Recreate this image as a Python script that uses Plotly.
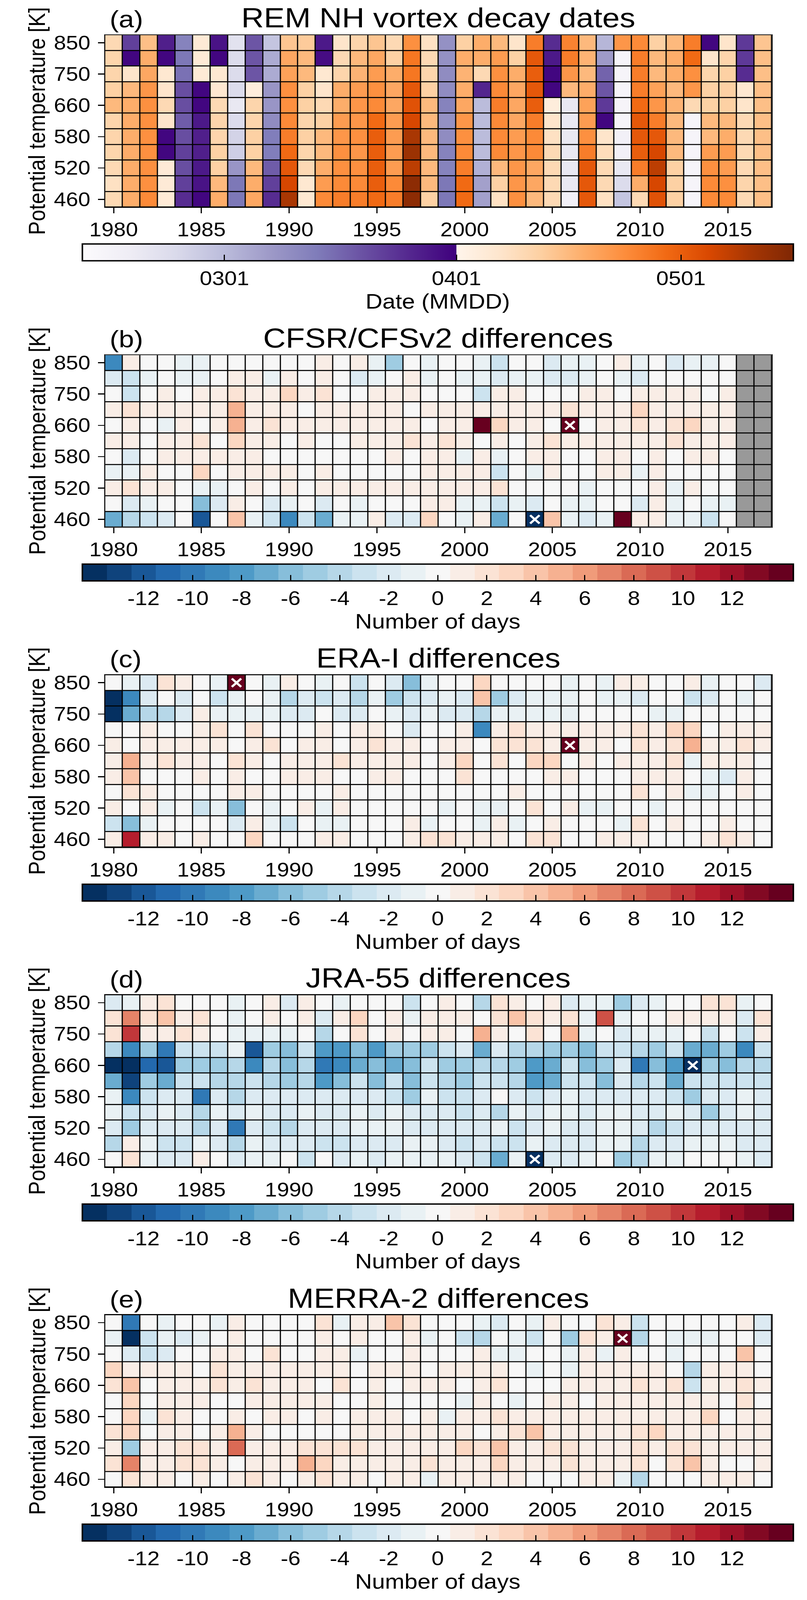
import plotly.graph_objects as go
import plotly.express as px
from plotly.colors import make_colorscale, sample_colorscale

W, H = 2067, 4663

years = list(range(1980, 2018))
year_ticks = [1980, 1985, 1990, 1995, 2000, 2005, 2010, 2015]
levels = ["850", "800", "750", "700", "660", "620", "580", "550", "520", "490", "460"]
level_ticks = ["460", "520", "580", "660", "750", "850"]

# (a) decay date, days relative to 1 April (rows top to bottom, 1980-2017)
rem_dates = [
    [9, -10, 14, -5, -20, 4, -3, -40, -13, -33, 13, 12, -4, 6, 10, 13, 9, 22, 7, -23, 11, 17, 15, 6, 25, -7, 24, 15, -30, 21, 23, 11, 15, 25, -1, 6, -9, 13],
    [10, -1, 17, -1, -18, 4, -1, -38, -13, -28, 18, 15, -2, 9, 15, 18, 11, 26, 9, -23, 17, 17, 20, 11, 31, -4, 25, 16, -25, -47, 25, 15, 17, 28, 6, 10, -9, 14],
    [10, 6, 18, 5, -17, 4, 5, -38, -13, -28, 19, 15, 5, 10, 16, 20, 17, 26, 10, -22, 16, 9, 22, 17, 30, -1, 21, 15, -15, -47, 25, 15, 17, 22, 10, 11, -7, 14],
    [11, 15, 21, 6, -12, -1, 5, -38, 3, -24, 22, 11, 6, 17, 20, 22, 18, 31, 11, -22, 17, -6, 23, 18, 31, -1, 15, 17, -13, -47, 25, 19, 15, 21, 11, 11, 5, 14],
    [15, 17, 22, 9, -12, -1, 9, -42, 10, -24, 22, 11, 9, 17, 21, 23, 18, 32, 15, -20, 18, -31, 25, 18, 30, 3, -42, 19, -9, -47, 28, 21, 16, 9, 11, 11, 6, 14],
    [10, 17, 22, 6, -14, -4, 10, -38, 10, -22, 23, 10, 11, 20, 21, 28, 20, 34, 15, -23, 21, -31, 23, 18, 25, 6, -42, 20, -1, -47, 31, 25, 15, -47, 15, 15, 9, 14],
    [10, 17, 22, -1, -12, -5, 10, -36, 11, -19, 25, 11, 15, 21, 22, 30, 20, 39, 15, -22, 22, -31, 23, 20, 23, 7, -42, 22, 6, -45, 31, 31, 15, -47, 15, 17, 9, 14],
    [10, 17, 22, -1, -10, -5, 11, -35, 11, -19, 28, 10, 15, 22, 21, 30, 20, 41, 15, -20, 23, -31, 23, 21, 23, 9, -42, 25, 8, -45, 30, 34, 15, -47, 20, 20, 9, 14],
    [9, 17, 22, 4, -12, -4, 11, -24, 15, -14, 31, 9, 17, 22, 22, 30, 20, 37, 15, -20, 25, -29, 15, 21, 18, 9, -42, 31, 9, -42, 25, 37, 11, -47, 22, 20, 9, 14],
    [7, 17, 22, 4, -10, -3, 15, -18, 17, -10, 34, 5, 20, 23, 23, 30, 23, 43, 15, -18, 28, -26, 11, 21, 18, 9, -42, 31, 9, -38, 17, 34, 11, -47, 23, 22, 10, 14],
    [9, 17, 23, 4, -7, -1, 17, -18, 18, -7, 39, 5, 23, 25, 25, 28, 25, 43, 11, -18, 28, -26, 7, 22, 15, 9, -45, 31, 7, -33, 9, 32, 11, -47, 23, 23, 9, 14],
]
date_ticks = [-31, 0, 30]
date_labels = ["0301", "0401", "0501"]

N = None
# (b)-(e) differences in days; |value| > 14 is off the scale
cfsr_diff = [
    [-9, 1, 0, 0, -1, -1, 0, 0, 0, 0, 0, 0, 1, 0, 1, -1, -5, 0, -1, 0, 0, -1, -3, 0, 0, -2, -1, -1, 0, 1, -1, 0, -2, -1, -1, 0, N, N],
    [-2, -3, -1, 0, -1, -1, 0, 1, 1, -1, 1, 0, 1, 0, -2, -1, 0, 1, -1, 0, -1, -1, -2, -1, -1, -2, -2, -1, 0, -1, -2, 0, 0, 0, 0, 0, N, N],
    [0, -3, 0, 1, 0, 1, 1, 2, 1, 1, 3, 1, 2, 0, 0, 1, 1, 1, 0, 0, 0, -3, 1, 1, 0, 0, 0, 1, 1, 0, 1, 1, 1, 1, 0, 1, N, N],
    [1, 2, 1, 1, 1, 1, 1, 5, 1, 1, 1, 0, 1, 1, 1, 1, 1, 0, 1, 1, 1, 1, 1, 1, 1, 1, 2, 1, 1, 1, 3, 1, 1, 1, 1, 1, N, N],
    [0, 1, 0, -1, 1, 0, 1, 5, 1, 2, 1, 1, 1, 1, 1, 1, 1, 1, 0, 1, 1, 14, 3, 1, 1, 0, 15, 0, 1, 1, 2, 1, 2, 3, 1, 1, N, N],
    [1, 1, 0, 1, 1, 2, 0, 3, 1, 1, 0, 1, 0, 0, 1, 1, 1, 2, 1, 2, 1, 0, 1, 0, 1, 2, 1, 1, 1, 1, 1, 1, 2, 1, 1, 1, N, N],
    [0, -2, 0, 1, 1, 1, 1, 1, 1, 0, 0, 0, 0, 0, 0, 0, 1, 0, 1, 1, -1, 1, -1, 0, 1, 1, 0, 0, 1, 1, 0, 1, 0, 1, 1, 0, N, N],
    [-1, -1, 1, 0, 0, 3, 0, 1, 1, 1, 1, 0, 1, 0, 0, 0, 0, 0, 1, 1, 1, 1, -3, 0, -1, 1, 0, 0, 1, 1, -1, 1, 0, 0, 0, 0, N, N],
    [1, 2, 1, 1, 0, -1, -1, 0, 1, 0, 1, 0, 1, 1, 1, 1, 1, 1, 1, 1, 1, 1, 2, 0, 0, 0, 0, -1, 0, 0, 0, 1, -1, 1, 0, 0, N, N],
    [0, -2, -1, 0, 0, -6, -2, 1, 0, -2, -1, 0, -2, 0, -1, 0, 0, 0, 1, 1, -1, -1, -3, -1, -2, 0, -1, -1, 0, 0, -2, 1, -1, 0, -1, -1, N, N],
    [-7, -4, -3, -2, 0, -12, 0, 4, -1, -3, -9, -3, -7, -1, -1, 1, -2, -2, 3, 0, -1, 1, -7, 0, -15, 4, -1, -2, -1, 14, 1, 1, -1, -1, -3, 0, N, N],
]
erai_diff = [
    [0, -1, -2, 2, 1, 0, -1, 15, 0, -1, 1, 0, -1, 0, -3, 0, -2, -6, -1, 0, 0, 3, 0, 0, 0, 0, -1, 0, -1, 1, 1, 0, 0, 1, -1, 0, 0, -2],
    [-14, -9, -2, 0, -2, 0, -3, -1, 0, -1, -4, -2, -3, -2, -4, -1, -5, -3, -2, -1, -2, 4, -5, -2, -1, -1, -1, 0, -1, -1, -2, 0, 0, -3, -2, 0, -1, 0],
    [-14, -7, -4, -4, -2, 1, -1, -1, -1, -1, -2, -2, 0, -2, -2, 0, -1, -2, -1, -2, -2, -4, -1, -1, -1, -1, -1, 0, 0, 0, 0, -1, -1, 0, 0, 0, 0, 0],
    [0, 0, 1, 0, 0, 1, 2, 0, 2, 0, 0, 0, 1, 0, 1, 1, 0, -2, 0, 0, 1, -9, 1, 2, 1, 1, 1, 1, 1, 1, 2, 1, 3, 3, 0, 1, 1, 1],
    [1, 0, 1, 1, 1, 1, 1, 0, 1, 2, 0, 1, 1, 0, 1, 2, 1, 1, 0, 1, 1, 0, 2, 2, 2, 1, 15, 1, 1, 0, 2, 1, 2, 5, 1, 1, 2, 1],
    [1, 5, 1, 2, 1, 1, 0, 2, 1, 0, 1, 1, 1, 2, 1, 1, 1, 1, 0, 1, 3, 0, 2, 0, 3, 3, 0, 1, 0, 1, 1, 1, 2, -1, 1, 1, 1, 0],
    [1, 4, 0, 0, 0, 1, 0, 1, 0, 0, 1, 1, 1, 0, 0, 1, 1, 0, 0, 0, 2, 0, 0, 0, 0, 1, 1, 0, 0, 0, 1, 1, 1, 0, -1, -2, 1, 0],
    [0, 2, 1, 0, 0, 0, 0, 1, 1, 0, 0, 0, 0, 1, 0, 0, 0, 0, 0, 0, 0, 0, 0, 1, 0, 0, 0, 0, 0, 0, 2, 0, 1, -1, -1, 0, 1, 0],
    [1, 0, 1, -1, 0, -3, -1, -6, 0, -1, 0, 1, -1, 1, 0, 0, 0, 0, 0, -1, 0, -1, -1, 0, 2, 0, 1, -1, -1, 0, 0, -1, 0, 0, 0, 0, 0, 0],
    [-3, -6, -1, 0, 0, 0, 0, -2, 1, -1, -3, 0, -1, -1, 0, 0, 0, 1, -1, 0, 0, -1, 1, -1, 0, 1, 0, 0, 0, -1, 2, 0, 1, 0, 0, 1, 0, 0],
    [1, 11, 1, 1, 0, 1, 0, 0, 3, 0, 0, 0, 1, 1, 0, 0, 0, 1, 2, 2, 1, 1, 1, 0, 2, 2, 0, 0, 1, 1, 1, 0, 0, 0, 1, 2, 1, 0],
]
jra_diff = [
    [-2, -1, 1, 2, 0, 0, 0, -1, 0, 1, -2, 1, 0, -1, 0, 0, 0, -3, 0, 1, 0, -4, 2, 1, 0, 1, -2, -1, -1, -5, -2, -1, 0, 0, 2, 2, -1, 0],
    [2, 7, 2, 4, 1, 2, 0, -1, 0, 1, 0, 1, -2, 1, 3, 0, 1, -1, 1, 1, 1, 0, 2, 4, 2, 1, 2, -1, 9, -1, 0, 0, 1, 1, 1, 1, -2, 2],
    [2, 10, 1, 1, 2, 1, 0, -1, -1, -1, -1, 0, -4, 0, 2, 0, 1, 0, 1, 1, 0, 5, 1, 0, 2, 0, 5, -1, 0, -2, -1, -1, -1, 0, -3, 0, -3, 1],
    [-4, -9, -5, -10, -3, -3, -3, -1, -12, -5, -6, -3, -8, -8, -6, -8, -5, -5, -5, -3, -2, -7, -2, -4, -4, -5, -5, -6, -3, -3, -4, -5, -3, -7, -7, -5, -9, -3],
    [-14, -14, -11, -12, -5, -5, -5, -4, -9, -4, -6, -4, -10, -9, -7, -6, -7, -6, -3, -5, -5, -4, -4, -5, -8, -7, -3, -6, -5, -2, -10, -6, -8, -15, -5, -6, -4, -4],
    [-7, -13, -5, -7, -3, -3, -4, -4, -3, -4, -5, -4, -8, -6, -3, -6, -3, -6, -3, -4, -5, -3, -3, -4, -8, -7, -3, -3, -6, -2, -4, -3, -7, -3, -3, -3, -3, -3],
    [-1, -9, -3, -2, -2, -10, -2, -4, -2, -2, -2, -2, -2, -2, -2, -2, -3, -5, -1, -3, -3, -2, 0, -2, -3, -2, -1, -2, -2, -2, -2, -2, -3, -5, -2, -2, -1, -2],
    [-1, -3, -2, -1, -2, -4, -1, -2, -1, -2, -2, -1, -2, -2, -1, -2, -1, -2, -2, -2, -3, -2, -4, -1, -2, -1, -1, -2, -1, -1, -2, -2, -1, -2, -5, -2, -1, -2],
    [-2, -5, -2, -2, -2, -4, -2, -10, -2, -3, -4, -2, -2, -2, -1, -1, -1, -2, -2, -2, -2, -2, -1, -3, -2, -1, -2, -2, -1, -1, -2, -4, -3, -2, -2, -2, -2, -2],
    [-4, 1, -1, -3, -3, -1, -2, -4, -1, -2, -2, -2, -3, -3, -2, -2, -2, -1, -1, -2, -3, -2, -3, -3, -1, -2, -2, -2, -1, -1, -4, -2, -2, -1, -1, -1, -2, -2],
    [0, 2, -1, -2, -2, 1, 0, -2, -1, -1, 0, -3, 0, -2, -1, -2, -1, -1, -1, -1, -2, -3, -7, -1, -15, -2, -2, -1, 0, -5, -4, -1, -1, 0, 0, 0, -1, -2],
]
merra_diff = [
    [0, -10, 0, -1, 0, 0, -1, 1, 0, 0, 0, 0, 2, -1, 1, 1, 4, 2, 0, 0, 0, -1, -2, 0, -1, 1, 0, 0, 2, 1, -3, 0, 0, 0, 0, 0, 1, -2],
    [-1, -14, -3, -1, -2, -1, 0, 1, 0, 0, 0, 0, 1, 0, 1, 0, 0, 1, -1, 0, -3, -4, 0, -1, -3, 0, -5, 2, 1, 15, -4, 0, -1, -1, -1, 0, 0, -2],
    [0, -2, -3, -2, 0, 0, 1, 1, 0, 2, 0, 0, 1, 1, -1, 0, 0, 1, 0, 0, 0, 1, -1, -1, 0, 0, -1, 1, -1, 1, 0, 0, -1, 0, 0, 0, 4, 0],
    [3, 1, 1, 1, 1, 0, 2, 1, 1, 1, 1, 1, 1, 1, 0, 1, 1, 1, 0, 1, 1, 1, 1, 0, -1, 0, -1, 1, 1, 1, 1, 1, 0, -4, 1, 1, 1, 0],
    [2, 4, 0, 1, 1, 1, 2, 1, 2, 1, 1, 1, 0, 2, 0, 1, 0, 1, 1, 1, 0, 1, 2, 0, 0, 0, 1, 1, 1, 1, 2, 1, 2, -3, 1, 1, 2, 1],
    [0, 3, 0, 1, 1, 1, 0, 0, 1, 1, 1, 1, 1, 0, 0, 1, 0, 0, 0, 0, -1, 1, 0, -1, 0, 1, 1, 0, 1, 1, 1, 1, 1, 1, 1, 0, 2, 0],
    [0, 3, -1, 2, 1, 0, 0, 1, 0, 1, 1, 0, 1, 0, 1, 1, 1, 0, 1, -1, 1, 1, 2, 1, 1, 1, 1, 1, 1, 1, 1, 1, 1, 1, 3, 0, 1, 1],
    [2, 3, 0, 1, 1, 0, 1, 5, 1, 0, 0, 0, 0, 0, 1, 1, 1, 1, 1, 1, 1, 0, 1, 2, 4, 1, 1, 1, 1, 1, 2, 3, 1, 1, 1, 1, 1, 1],
    [1, -5, 1, 1, 2, 2, 1, 8, 1, 1, 1, 2, 2, 2, 2, 1, 1, 1, 1, 1, 3, 2, 4, 1, 1, 2, 2, 1, 1, 1, 2, 1, 2, 2, 1, 1, 1, 1],
    [2, 7, 1, 1, 2, 2, 1, 0, 1, 1, 1, 5, 3, 1, 1, 1, 1, 1, 2, 1, 1, 1, 3, 1, 1, 1, 2, 1, 1, 1, 2, 0, 2, 4, 1, 0, 0, 1],
    [0, 2, 1, 1, 0, 1, 0, 1, 2, 1, 0, 1, 2, 1, 1, 0, 1, 1, -1, 1, 1, 1, 1, 1, 0, 0, 0, 1, 1, -1, -4, 0, 0, 0, 1, 1, 1, 0],
]
diff_ticks = list(range(-12, 13, 2))

panels = [
    ("(a)", "REM NH vortex decay dates", rem_dates),
    ("(b)", "CFSR/CFSv2 differences", cfsr_diff),
    ("(c)", "ERA-I differences", erai_diff),
    ("(d)", "JRA-55 differences", jra_diff),
    ("(e)", "MERRA-2 differences", merra_diff),
]

# pixel layout of the page: grid top/bottom, colour bar top
grid_px = [(94, 598), (1030, 1534), (1966, 2470), (2902, 3406), (3838, 4342)]
cbar_top = [706, 1642, 2578, 3514, 4450]
gx0, gx1 = 234, 1975
cb_x0, cb_x1 = 175, 2031
FONT = "Liberation Sans, Arial, sans-serif"

# colour scales
zmin_a, zmax_a = -50, 45
brk = (0 - zmin_a) / (zmax_a - zmin_a)
purples = px.colors.sequential.Purples
oranges = px.colors.sequential.Oranges
date_scale = ([[brk * i / 8, c] for i, c in enumerate(purples)]
              + [[brk + (1 - brk) * i / 8, c] for i, c in enumerate(oranges)])

rdbu = make_colorscale(px.colors.diverging.RdBu_r)
steps = sample_colorscale(rdbu, [i / 28 for i in range(29)])
diff_scale = []
for i, c in enumerate(steps):
    diff_scale += [[i / 29, c], [(i + 1) / 29, c]]

fig = go.Figure()
annotations = []
layout = {}

for k, (lab, title, data) in enumerate(panels):
    sfx = "" if k == 0 else str(k + 1)
    top, bot = grid_px[k]
    cb = dict(orientation="h", x=0.5 * (cb_x0 + cb_x1) / W, xanchor="center",
              y=1 - cbar_top[k] / H, yanchor="top", len=(cb_x1 - cb_x0) / W,
              thickness=49, outlinewidth=4, outlinecolor="black",
              xpad=0, ypad=0, ticks="inside", ticklen=19, tickwidth=3,
              tickcolor="black", tickfont=dict(size=57, color="black", family=FONT))
    if k == 0:
        cb.update(tickvals=date_ticks, ticktext=date_labels,
                  title=dict(text="Date (MMDD)", side="bottom",
                             font=dict(size=60, color="black", family=FONT)))
        scale, zmin, zmax = date_scale, zmin_a, zmax_a
    else:
        cb.update(tickvals=diff_ticks, ticktext=[str(t) for t in diff_ticks],
                  title=dict(text="Number of days", side="bottom",
                             font=dict(size=60, color="black", family=FONT)))
        scale, zmin, zmax = diff_scale, -14.5, 14.5

    fig.add_trace(go.Heatmap(x=years, y=levels, z=data, colorscale=scale,
                             zmin=zmin, zmax=zmax, xgap=3, ygap=3,
                             colorbar=cb, xaxis="x" + sfx, yaxis="y" + sfx))

    if k > 0:
        missing = [[1 if v is None else None for v in row] for row in data]
        if any(v == 1 for row in missing for v in row):
            fig.add_trace(go.Heatmap(x=years, y=levels, z=missing,
                                     colorscale=[[0, "#999999"], [1, "#999999"]],
                                     showscale=False, xgap=3, ygap=3,
                                     xaxis="x" + sfx, yaxis="y" + sfx))
        xs, ys = [], []
        for r, row in enumerate(data):
            for c, v in enumerate(row):
                if v is not None and abs(v) > 14:
                    xs.append(years[c])
                    ys.append(levels[r])
        fig.add_trace(go.Scatter(x=xs, y=ys, mode="markers", showlegend=False,
                                 marker=dict(symbol="x-thin", size=24,
                                             line=dict(width=6, color="white")),
                                 xaxis="x" + sfx, yaxis="y" + sfx))

    axis_common = dict(ticks="outside", ticklen=16, tickwidth=3, tickcolor="black",
                       showline=True, mirror=True, linecolor="black", linewidth=2,
                       showgrid=False, zeroline=False,
                       tickfont=dict(size=56, color="black", family=FONT))
    layout["xaxis" + sfx] = dict(domain=[gx0 / W, gx1 / W], anchor="y" + sfx,
                                 range=[1979.5, 2017.5], tickvals=year_ticks,
                                 **axis_common)
    layout["yaxis" + sfx] = dict(domain=[1 - bot / H, 1 - top / H], anchor="x" + sfx,
                                 type="category", categoryorder="array",
                                 categoryarray=levels[::-1], range=[-0.5, 10.5],
                                 tickvals=level_ticks, ticklabelstandoff=8,
                                 **axis_common)

    annotations.append(dict(text=title, x=(gx0 + gx1) / 2 / W, y=1 - (top - 49) / H,
                            xref="paper", yref="paper", xanchor="center", yanchor="middle",
                            showarrow=False, font=dict(size=80, color="black", family=FONT)))
    annotations.append(dict(text=lab, x=245 / W, y=1 - (top - 46) / H,
                            xref="paper", yref="paper", xanchor="left", yanchor="middle",
                            showarrow=False, font=dict(size=70, color="black", family=FONT)))
    annotations.append(dict(text="Potential temperature [K]", x=57 / W,
                            y=1 - (top + bot) / 2 / H, textangle=-90,
                            xref="paper", yref="paper", xanchor="center", yanchor="middle",
                            showarrow=False, font=dict(size=60, color="black", family=FONT)))

fig.update_layout(
    width=W, height=H,
    margin=dict(l=0, r=0, t=0, b=0),
    paper_bgcolor="white",
    plot_bgcolor="black",
    showlegend=False,
    font=dict(family=FONT, color="black"),
    annotations=annotations,
    **layout,
)

# the browser view can be shorter than the figure: squeeze it to fit
post = """
document.body.style.margin = '0';
document.body.style.overflow = 'hidden';
var gd = document.getElementById('{plot_id}');
var f = window.innerHeight / %d;
if (f > 0 && f < 1) {
    gd.style.transformOrigin = '0 0';
    gd.style.transform = 'scale(1,' + f + ')';
}
""" % H

fig.write_html("out.html", config={"displayModeBar": False}, post_script=post)
